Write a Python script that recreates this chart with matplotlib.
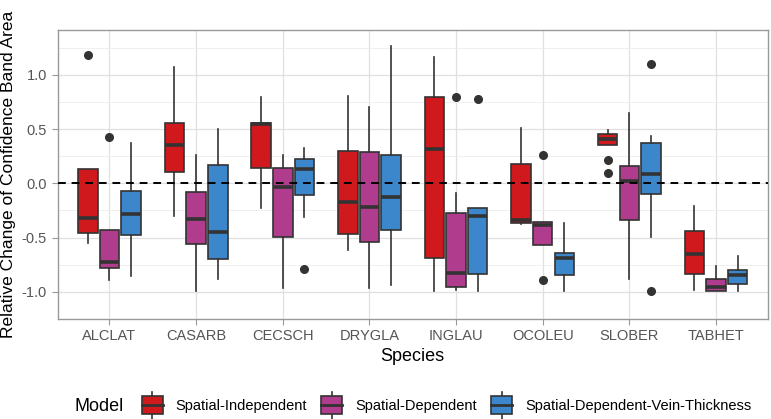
import matplotlib
matplotlib.use("Agg")
import matplotlib.pyplot as plt
from matplotlib.legend_handler import HandlerBase
from matplotlib.patches import Rectangle
from matplotlib.lines import Line2D
from matplotlib.offsetbox import HPacker

plt.rcParams['font.family'] = ['Liberation Sans', 'DejaVu Sans']

species = ["ALCLAT", "CASARB", "CECSCH", "DRYGLA", "INGLAU", "OCOLEU", "SLOBER", "TABHET"]
models = ["Spatial-Independent", "Spatial-Dependent", "Spatial-Dependent-Vein-Thickness"]
colors = ["#D0191C", "#B03C8E", "#3C86CC"]

# Spatial-Independent
si_whislo = [-0.553, -0.305, -0.230, -0.614, -0.992, -0.378, 0.354, -0.986]
si_q1     = [-0.456, 0.109, 0.139, -0.469, -0.690, -0.363, 0.354, -0.831]
si_med    = [-0.317, 0.351, 0.548, -0.169, 0.312, -0.341, 0.408, -0.650]
si_q3     = [0.133, 0.557, 0.560, 0.300, 0.796, 0.182, 0.454, -0.441]
si_whishi = [0.133, 1.074, 0.793, 0.805, 1.160, 0.512, 0.490, -0.211]
si_out    = [[1.18], [], [], [], [], [], [0.212, 0.097], []]

# Spatial-Dependent
sd_whislo = [-0.892, -0.992, -0.962, -0.962, -0.980, -0.565, -0.886, -0.995]
sd_q1     = [-0.780, -0.556, -0.490, -0.544, -0.953, -0.565, -0.336, -0.995]
sd_med    = [-0.726, -0.327, -0.033, -0.221, -0.822, -0.381, 0.022, -0.953]
sd_q3     = [-0.426, -0.078, 0.145, 0.285, -0.272, -0.354, 0.158, -0.877]
sd_whishi = [-0.426, 0.258, 0.263, 0.702, -0.093, -0.354, 0.648, -0.765]
sd_out    = [[0.43], [], [], [], [0.793], [0.26, -0.892], [], []]

# Spatial-Dependent-Vein-Thickness
vt_whislo = [-0.856, -0.883, -0.311, -0.940, -0.992, -0.992, -0.499, -0.992]
vt_q1     = [-0.480, -0.701, -0.106, -0.432, -0.832, -0.847, -0.100, -0.928]
vt_med    = [-0.287, -0.450, 0.133, -0.124, -0.305, -0.690, 0.088, -0.840]
vt_q3     = [-0.075, 0.170, 0.221, 0.263, -0.230, -0.638, 0.369, -0.801]
vt_whishi = [0.369, 0.505, 0.330, 1.270, -0.230, -0.363, 0.439, -0.674]
vt_out    = [[], [], [-0.786], [], [0.775], [], [1.10, -0.992], []]

series = [
    (si_whislo, si_q1, si_med, si_q3, si_whishi, si_out),
    (sd_whislo, sd_q1, sd_med, sd_q3, sd_whishi, sd_out),
    (vt_whislo, vt_q1, vt_med, vt_q3, vt_whishi, vt_out),
]

fig = plt.figure(figsize=(7.71, 4.19), dpi=100)
ax = fig.add_axes([57.5 / 771, 1 - 319 / 419, (768 - 57.5) / 771, (319 - 30) / 419])

edge = "#333333"
offsets = [-0.25, 0.0, 0.25]
bw = 0.225
for m, (wl, q1, med, q3, wh, out) in enumerate(series):
    stats = []
    for i in range(len(species)):
        stats.append(dict(whislo=wl[i], q1=q1[i], med=med[i], q3=q3[i], whishi=wh[i], fliers=out[i]))
    pos = [i + 1 + offsets[m] for i in range(len(species))]
    ax.bxp(stats, positions=pos, widths=bw, patch_artist=True, showcaps=False,
           boxprops=dict(facecolor=colors[m], edgecolor=edge, linewidth=1.2),
           medianprops=dict(color=edge, linewidth=2.6),
           whiskerprops=dict(color=edge, linewidth=1.2),
           flierprops=dict(marker='o', markerfacecolor=edge, markeredgecolor=edge, markersize=5.5),
           manage_ticks=False, zorder=3)

ax.axhline(0, color="black", linestyle=(0, (4, 3)), linewidth=1.4, zorder=4)

ax.set_xlim(0.4, 8.6)
ax.set_ylim(-1.21, 1.413)
ax.set_xticks(range(1, 9))
ax.set_xticklabels(species)
ax.set_yticks([-1.0, -0.5, 0.0, 0.5, 1.0])
ax.set_yticklabels(["-1.0", "-0.5", "0.0", "0.5", "1.0"])
ax.set_yticks([-1.25, -0.75, -0.25, 0.25, 0.75, 1.25], minor=True)
ax.grid(True, which="major", color="#E0E0E0", linewidth=0.9, zorder=0)
ax.grid(True, which="minor", axis="y", color="#EDEDED", linewidth=0.6, zorder=0)
ax.set_axisbelow(True)
for s in ax.spines.values():
    s.set_color("#999999")
    s.set_linewidth(1.0)
ax.tick_params(axis="both", which="major", colors="#999999", labelcolor="#555555", labelsize=10.5, length=4)
ax.tick_params(axis="y", which="minor", length=0)

ax.set_xlabel("Species", fontsize=13, labelpad=3)
ax.set_ylabel("Relative Change of Confidence Band Area", fontsize=12.5, labelpad=4)


class BoxHandler(HandlerBase):
    def __init__(self, color):
        super().__init__()
        self.color = color

    def create_artists(self, legend, orig_handle, xdescent, ydescent, width, height, fontsize, trans):
        cx = width / 2 - xdescent
        bw_ = width * 0.9
        h = height * 1.4
        y0 = -ydescent + height / 2 - h / 2
        line = Line2D([cx, cx], [y0 - height * 0.35, y0 + h + height * 0.35], color=edge, lw=1.2, transform=trans)
        rect = Rectangle((cx - bw_ / 2, y0), bw_, h, facecolor=self.color, edgecolor=edge, lw=1.2, transform=trans)
        med = Line2D([cx - bw_ / 2, cx + bw_ / 2], [y0 + h / 2, y0 + h / 2], color=edge, lw=2, transform=trans)
        return [line, rect, med]


handles = [Rectangle((0, 0), 1, 1) for _ in models]
hmap = {h: BoxHandler(c) for h, c in zip(handles, colors)}
leg = fig.legend(handles, models, handler_map=hmap, loc="center", bbox_to_anchor=(413 / 771, 1 - 406 / 419),
                 ncol=3, frameon=False, fontsize=10.5, handlelength=1.6, handleheight=1.0,
                 handletextpad=0.8, columnspacing=0.9, title="Model", title_fontsize=13)
title_box = leg._legend_title_box
entries = leg._legend_handle_box
leg._legend_box._children = [HPacker(pad=0, sep=12, children=[title_box, entries], align="center")]

fig.savefig("out.png", dpi=100)
